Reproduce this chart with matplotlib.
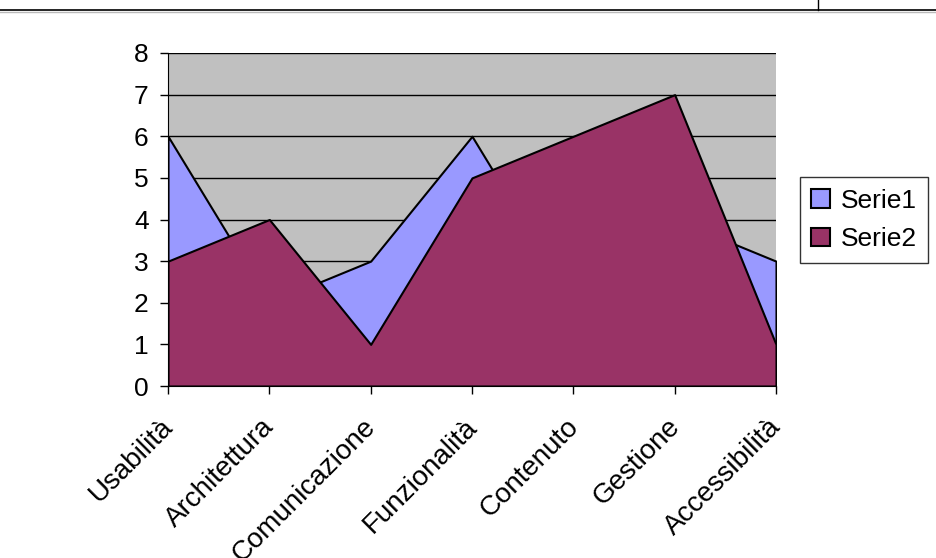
import matplotlib
matplotlib.use('Agg')
import matplotlib.pyplot as plt
import matplotlib.transforms as mtransforms
from matplotlib.lines import Line2D

plt.rcParams['font.family'] = ['Liberation Sans', 'DejaVu Sans']

categories = ['Usabilità', 'Architettura', 'Comunicazione', 'Funzionalità',
              'Contenuto', 'Gestione', 'Accessibilità']
serie1 = [6, 2, 3, 6, 2, 4, 3]
serie2 = [3, 4, 1, 5, 6, 7, 1]

fig = plt.figure(figsize=(9.37, 5.58), dpi=100)
ax = fig.add_axes([168 / 937, 1 - 386 / 558, (776 - 168) / 937, (386 - 53) / 558])

x = list(range(len(categories)))
ax.set_facecolor('#C0C0C0')
ax.fill_between(x, 0, serie1, facecolor='#9999FF', edgecolor='black', linewidth=1.5,
                label='Serie1', zorder=2)
ax.fill_between(x, 0, serie2, facecolor='#993366', edgecolor='black', linewidth=1.5,
                label='Serie2', zorder=3)

ax.set_xlim(0, len(categories) - 1)
ax.set_ylim(0, 8)
ax.set_yticks(range(0, 9))
ax.set_xticks(x)
ax.set_xticklabels(categories, rotation=45, ha='right', rotation_mode='anchor')
ax.tick_params(axis='both', direction='out', length=6, width=1, colors='black')
ax.tick_params(axis='y', labelsize=19, pad=8)
ax.tick_params(axis='x', labelsize=20, pad=14)
ax.yaxis.grid(True, color='black', linewidth=1, zorder=1)
ax.set_axisbelow(True)

# nudge the slanted labels a little to the left of their ticks
shift = mtransforms.ScaledTranslation(-8 / 100, 0, fig.dpi_scale_trans)
for lbl in ax.get_xticklabels():
    lbl.set_transform(lbl.get_transform() + shift)

for side in ['top', 'right']:
    ax.spines[side].set_visible(False)
ax.spines['left'].set_color('black')
ax.spines['bottom'].set_color('black')
ax.spines['left'].set_zorder(5)
ax.spines['bottom'].set_zorder(5)

leg = ax.legend(loc='center', bbox_to_anchor=(864 / 937, 1 - 220 / 558),
                bbox_transform=fig.transFigure, fontsize=19, frameon=True, fancybox=False,
                handlelength=0.7, handleheight=0.7, handletextpad=0.4, borderpad=0.45,
                labelspacing=0.55, borderaxespad=0)
leg.get_frame().set_edgecolor('black')
leg.get_frame().set_linewidth(1)

# document table border at the top
fig.add_artist(Line2D([0, 1], [1 - 10 / 558, 1 - 10 / 558], color='black', linewidth=1.2))
fig.add_artist(Line2D([0, 1], [1 - 12 / 558, 1 - 12 / 558], color='#BBBBBB', linewidth=1))
fig.add_artist(Line2D([818 / 937, 818 / 937], [1 - 10 / 558, 1], color='black', linewidth=1))

fig.savefig('out.png', dpi=100)
